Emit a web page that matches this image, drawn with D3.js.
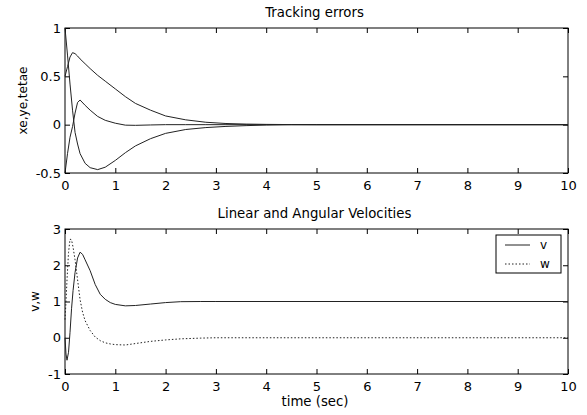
<!DOCTYPE html>
<html lang="en">
<head>
<meta charset="UTF-8">
<title>Tracking errors and velocities</title>
<script src="https://d3js.org/d3.v7.min.js"></script>
<style>
    body { margin: 0; background: #fff; }
    text { font-family: "DejaVu Sans", "Liberation Sans", Arial, sans-serif; fill: #000; }
</style>
</head>
<body>
<div id="chart"></div>
<script>
    // ---- data ----
    const xTicks = [0, 1, 2, 3, 4, 5, 6, 7, 8, 9, 10];
    const topYTicks = [-0.5, 0, 0.5, 1];
    const botYTicks = [-1, 0, 1, 2, 3];

    // top plot: common time grid
    const tTop  = [0, 0.05, 0.1, 0.15, 0.2, 0.25, 0.3, 0.4, 0.5, 0.65, 0.8, 1.0, 1.2, 1.4, 1.7, 2.0, 2.4, 2.8, 3.2, 3.6, 4.0, 4.5, 5, 10];
    const xe    = [0.5, 0.6, 0.7, 0.745, 0.735, 0.71, 0.68, 0.63, 0.58, 0.51, 0.45, 0.37, 0.29, 0.22, 0.15, 0.09, 0.05, 0.025, 0.012, 0.006, 0.003, 0.001, 0, 0];
    const ye    = [-0.5, -0.3, -0.13, -0.02, 0.12, 0.23, 0.255, 0.2, 0.15, 0.085, 0.045, 0.015, -0.005, -0.007, -0.003, 0, 0, 0, 0, 0, 0, 0, 0, 0];
    const tetae = [1, 0.72, 0.42, 0.15, -0.08, -0.2, -0.3, -0.4, -0.445, -0.465, -0.44, -0.37, -0.29, -0.22, -0.145, -0.09, -0.05, -0.03, -0.018, -0.01, -0.004, 0, 0, 0];

    // bottom plot: common time grid
    const tBot = [0, 0.02, 0.04, 0.07, 0.1, 0.13, 0.16, 0.2, 0.25, 0.3, 0.35, 0.4, 0.5, 0.6, 0.7, 0.8, 0.9, 1.0, 1.2, 1.4, 1.7, 2.0, 2.3, 2.7, 3.0, 10];
    const v    = [0, -0.45, -0.62, -0.4, 0.15, 0.8, 1.3, 1.8, 2.2, 2.36, 2.3, 2.15, 1.85, 1.47, 1.2, 1.06, 0.97, 0.92, 0.88, 0.89, 0.93, 0.97, 0.995, 1, 1, 1];
    const w    = [0.5, 1.0, 1.6, 2.35, 2.72, 2.7, 2.5, 2.15, 1.6, 1.05, 0.7, 0.47, 0.2, 0.02, -0.08, -0.14, -0.17, -0.19, -0.2, -0.16, -0.1, -0.06, -0.03, -0.01, 0, 0];

    const W = 587, H = 415;
    const left = 65, right = 568;

    const svg = d3.select("#chart").append("svg")
        .attr("width", W).attr("height", H);

    function panel(opts) {
        const x = d3.scaleLinear().domain([0, 10]).range([left, right]);
        const y = d3.scaleLinear().domain(opts.yDomain).range([opts.bottom, opts.top]);
        const g = svg.append("g");

        // inward ticks, labels on bottom and left
        g.append("g")
            .attr("transform", "translate(0," + opts.bottom + ")")
            .call(d3.axisBottom(x).tickValues(xTicks).tickSizeInner(-5).tickSizeOuter(0).tickPadding(8).tickFormat(d3.format("d")));
        g.append("g")
            .attr("transform", "translate(0," + opts.top + ")")
            .call(d3.axisTop(x).tickValues(xTicks).tickSizeInner(-5).tickSizeOuter(0).tickFormat(""));
        g.append("g")
            .attr("transform", "translate(" + left + ",0)")
            .call(d3.axisLeft(y).tickValues(opts.yTicks).tickSizeInner(-5).tickSizeOuter(0).tickPadding(4).tickFormat(d => String(d)));
        g.append("g")
            .attr("transform", "translate(" + right + ",0)")
            .call(d3.axisRight(y).tickValues(opts.yTicks).tickSizeInner(-5).tickSizeOuter(0).tickFormat(""));

        g.selectAll(".domain").remove();
        g.selectAll(".tick line").attr("stroke", "#000");
        g.selectAll(".tick text").style("font-size", "13px");

        g.append("rect")
            .attr("x", left).attr("y", opts.top)
            .attr("width", right - left).attr("height", opts.bottom - opts.top)
            .attr("fill", "none").attr("stroke", "#000").attr("stroke-width", 1);

        // title
        g.append("text")
            .attr("x", (left + right) / 2 - 2).attr("y", opts.top - 11)
            .attr("text-anchor", "middle")
            .style("font-size", "13.3px")
            .text(opts.title);

        // y label
        g.append("text")
            .attr("transform", "translate(" + opts.yLabelX + "," + ((opts.top + opts.bottom) / 2) + ") rotate(-90)")
            .attr("text-anchor", "middle")
            .style("font-size", "12px")
            .text(opts.yLabel);

        return { x, y, g };
    }

    const topPanel = panel({ top: 28, bottom: 173, yDomain: [-0.5, 1], yTicks: topYTicks,
        title: "Tracking errors", yLabel: "xe,ye,tetae", yLabelX: 27 });
    const botPanel = panel({ top: 229, bottom: 374, yDomain: [-1, 3], yTicks: botYTicks,
        title: "Linear and Angular Velocities", yLabel: "v,w", yLabelX: 39 });

    // top curves
    const lineTop = d3.line().x((d, i) => topPanel.x(tTop[i])).y(d => topPanel.y(d));
    [xe, ye, tetae].forEach(s => {
        topPanel.g.append("path").datum(s)
            .attr("d", lineTop)
            .attr("fill", "none").attr("stroke", "#222").attr("stroke-width", 1);
    });

    // bottom curves
    const lineBot = d3.line().x((d, i) => botPanel.x(tBot[i])).y(d => botPanel.y(d));
    botPanel.g.append("path").datum(v)
        .attr("d", lineBot)
        .attr("fill", "none").attr("stroke", "#222").attr("stroke-width", 1);
    botPanel.g.append("path").datum(w)
        .attr("d", lineBot)
        .attr("fill", "none").attr("stroke", "#222").attr("stroke-width", 1)
        .attr("stroke-dasharray", "1.5,2");

    // x label
    svg.append("text")
        .attr("x", 315).attr("y", 406)
        .attr("text-anchor", "middle")
        .style("font-size", "13.3px")
        .text("time (sec)");

    // legend
    const lg = svg.append("g");
    lg.append("rect")
        .attr("x", 496).attr("y", 235).attr("width", 65).attr("height", 38)
        .attr("fill", "#fff").attr("stroke", "#000");
    const legendItems = [{ name: "v", dash: null, y: 245 }, { name: "w", dash: "1.5,2", y: 264 }];
    legendItems.forEach(it => {
        lg.append("line")
            .attr("x1", 505).attr("x2", 530).attr("y1", it.y).attr("y2", it.y)
            .attr("stroke", "#222").attr("stroke-dasharray", it.dash);
        lg.append("text")
            .attr("x", 540).attr("y", it.y).attr("dy", "0.32em")
            .style("font-size", "12px")
            .text(it.name);
    });
</script>
</body>
</html>
